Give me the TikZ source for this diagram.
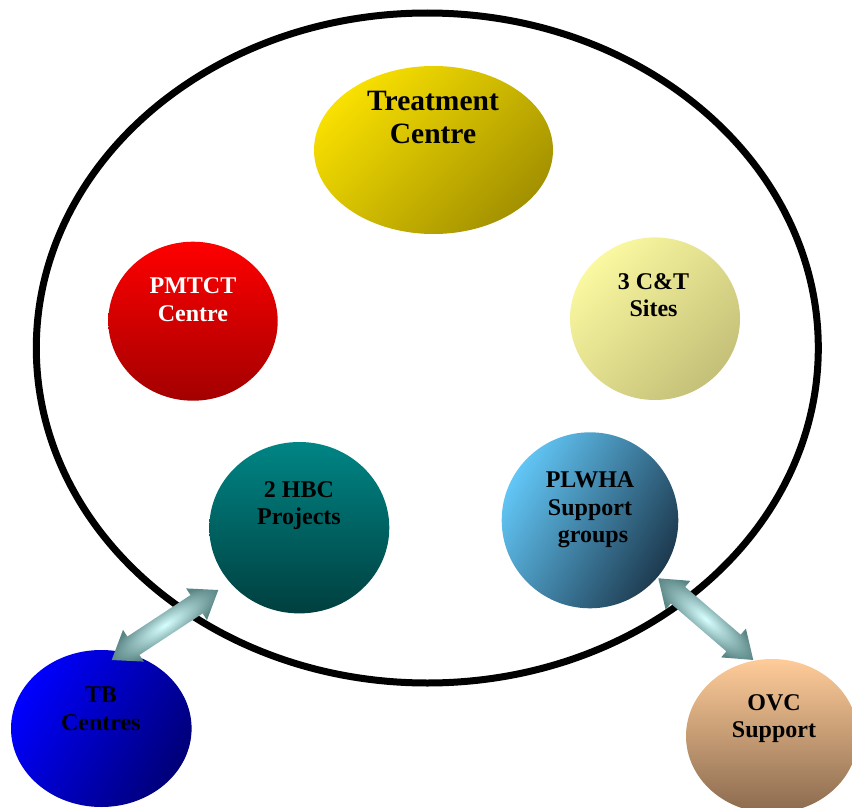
\documentclass[tikz,border=0pt]{standalone}
\usepackage{fontspec}
\setmainfont{Liberation Serif}
\usetikzlibrary{calc,shapes.geometric}
\definecolor{tcA}{HTML}{F8E000}\definecolor{tcB}{HTML}{A39100}
\definecolor{pmA}{HTML}{FF0000}\definecolor{pmB}{HTML}{A30000}
\definecolor{ctA}{HTML}{FAF8A0}\definecolor{ctB}{HTML}{C4C078}
\definecolor{hbA}{HTML}{008585}\definecolor{hbB}{HTML}{003F3F}
\definecolor{plA}{HTML}{62C6F6}\definecolor{plB}{HTML}{1D3A4F}
\definecolor{tbA}{HTML}{0000FF}\definecolor{tbB}{HTML}{000078}
\definecolor{ovA}{HTML}{FFCC99}\definecolor{ovB}{HTML}{8A6A4E}
\definecolor{arIn}{HTML}{D8FFFF}\definecolor{arOut}{HTML}{5A8585}
\tikzset{
  bubble/.style 2 args={ellipse, inner sep=0pt, outer sep=0pt, minimum width=#1, minimum height=#2},
  grad/.style n args={3}{top color=#1, bottom color=#2, shading angle=#3},
  smalltxt/.style={font=\bfseries\fontsize{24}{27.5}\selectfont, align=center, inner sep=0pt},
  bigtxt/.style={font=\bfseries\fontsize{29.5}{33}\selectfont, align=center, inner sep=0pt},
  arrowfill/.style={inner color=arIn, outer color=arOut},
}
\newcommand\fatarrow[2]{%
  \path let \p1=(#1), \p2=(#2) in
    \pgfextra{%
      \pgfmathsetmacro\fatangtmp{atan2(\y2-\y1,\x2-\x1)}%
      \pgfmathsetmacro\fatlentmp{veclen(\x2-\x1,\y2-\y1)}%
      \xdef\fatang{\fatangtmp}\xdef\fatlen{\fatlentmp}};
  \begin{scope}[transform canvas={shift={(#1)},rotate=\fatang}]
    \path[arrowfill] (0,0) -- (26,19) -- (26,11) -- (\fatlen-26,11) -- (\fatlen-26,19)
      -- (\fatlen,0) -- (\fatlen-26,-19) -- (\fatlen-26,-11) -- (26,-11) -- (26,-19) -- cycle;
  \end{scope}}
\begin{document}
\begin{tikzpicture}[x=1pt,y=1pt]
\useasboundingbox (0,0) rectangle (852,-808);
\clip (0,0) rectangle (852,-808);
% outer frame
\node[draw, line width=7pt, bubble={782pt}{670pt}] (frame) at (427.3,-348) {};
% bubbles
\node[bubble={239pt}{168pt}, grad={tcA}{tcB}{45}] (tc) at (433.5,-150) {};
\node[bubble={169.4pt}{159pt}, grad={pmA}{pmB}{0}] (pm) at (193,-321.2) {};
\node[bubble={170pt}{162.6pt}, grad={ctA}{ctB}{45}] (ct) at (655,-318.7) {};
\node[bubble={180pt}{171.4pt}, grad={hbA}{hbB}{0}] (hbc) at (299.3,-527.7) {};
\node[bubble={176.6pt}{176pt}, grad={plA}{plB}{60}] (pl) at (590,-520.3) {};
\node[bubble={180.6pt}{157pt}, grad={tbA}{tbB}{60}] (tb) at (101.3,-728.5) {};
\node[bubble={172pt}{154pt}, grad={ovA}{ovB}{0}] (ovc) at (772,-736) {};
% labels
\node[bigtxt] (tcT) at (433,-117) {Treatment\\Centre};
\node[smalltxt, text=white] (pmT) at (193,-299.7) {PMTCT\\Centre};
\node[smalltxt] (ctT) at (653.5,-295) {3 C\&T\\Sites};
\node[smalltxt] (hbcT) at (299,-505.4) {2 HBC\\Projects};
\node[smalltxt] (plT) at (590,-509.9) {PLWHA\\Support\\\hspace*{6pt}groups};
\node[smalltxt] (tbT) at (100.8,-708.7) {TB\\Centres};
\node[smalltxt] (ovcT) at (774,-718.5) {OVC\\Support};
% arrow ends
\coordinate (tbTip) at (111.7,-660);
\coordinate (hbcTip) at (218.3,-590);
\coordinate (plTip) at (658.3,-578.3);
\coordinate (ovcTip) at (753.3,-660);
\fatarrow{tbTip}{hbcTip}
\fatarrow{plTip}{ovcTip}
\end{tikzpicture}
\end{document}
